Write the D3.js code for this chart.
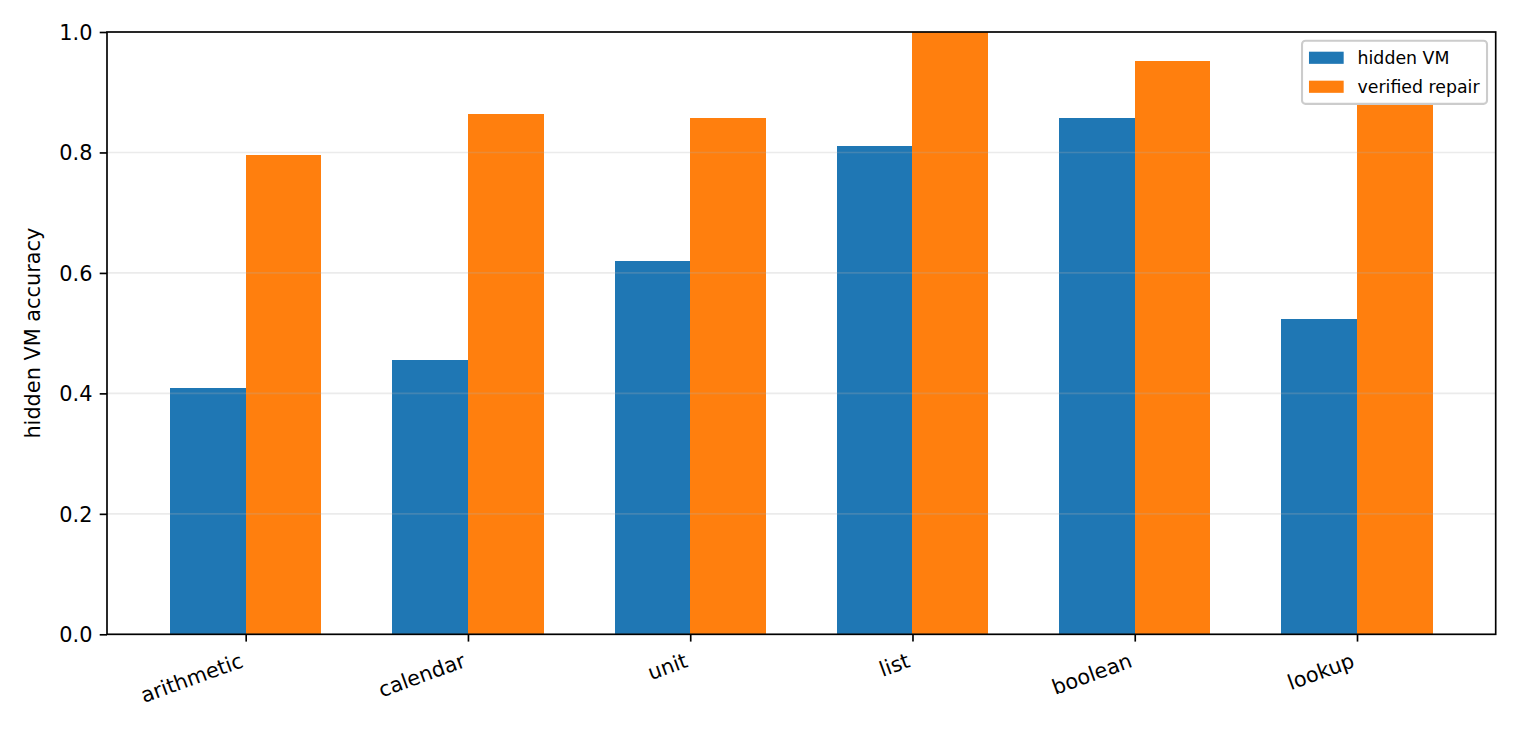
<!DOCTYPE html>
<html>
<head>
<meta charset="utf-8">
<script src="https://cdn.jsdelivr.net/npm/d3@7"></script>
<style>
  html, body { margin: 0; padding: 0; background: #fff; }
  svg { display: block; font-family: "DejaVu Sans", sans-serif; }
</style>
</head>
<body>
<div id="chart"></div>
<script>
// data
const categories = ["arithmetic", "calendar", "unit", "list", "boolean", "lookup"];
const hiddenVM = [0.409, 0.455, 0.619, 0.810, 0.857, 0.524];
const verifiedRepair = [0.795, 0.864, 0.857, 1.0, 0.952, 0.881];
const yTicks = [0.0, 0.2, 0.4, 0.6, 0.8, 1.0];
const seriesNames = ["hidden VM", "verified repair"];
const seriesColors = ["#1f77b4", "#ff7f0e"];

const W = 1520, H = 736;
const margin = {top: 32, right: 24.3, bottom: 101.7, left: 107};
const width = W - margin.left - margin.right,
      height = H - margin.top - margin.bottom;

// matplotlib-ish sizes at 150 dpi
const pt = 150 / 72;
const fontSize = 10 * pt;
const legendFont = 8.33 * pt;
const lw = 0.8 * pt;
const tickLen = 3.5 * pt, tickPad = 3.5 * pt;
const barW = 0.34;

// x extent = bar extent + 5% margin, like matplotlib autoscale
const lo = -barW, hi = categories.length - 1 + barW;
const pad = (hi - lo) * 0.05;

const x = d3.scaleLinear().domain([lo - pad, hi + pad]).range([0, width]);
const y = d3.scaleLinear().domain([0, 1]).range([height, 0]);

const svg = d3.select("#chart").append("svg")
    .attr("width", W)
    .attr("height", H);

const g = svg.append("g")
    .attr("transform", `translate(${margin.left},${margin.top})`);

// bars
const series = [hiddenVM, verifiedRepair];
series.forEach(function(vals, s) {
  g.append("g").selectAll("rect")
    .data(vals)
    .join("rect")
      .attr("x", (d, i) => x(i + (s - 1) * barW))
      .attr("y", d => y(d))
      .attr("width", x(barW) - x(0))
      .attr("height", d => y(0) - y(d))
      .attr("fill", seriesColors[s])
      .attr("shape-rendering", "crispEdges");
});

// horizontal grid, drawn above the bars (matplotlib default zorder)
g.append("g").selectAll("line")
  .data(yTicks)
  .join("line")
    .attr("x1", 0).attr("x2", width)
    .attr("y1", d => y(d)).attr("y2", d => y(d))
    .attr("stroke", "#b0b0b0")
    .attr("stroke-opacity", 0.25)
    .attr("stroke-width", lw);

// y axis
const yAxis = g.append("g")
    .call(d3.axisLeft(y).tickValues(yTicks).tickFormat(d3.format(".1f"))
      .tickSize(tickLen).tickPadding(tickPad));
yAxis.select(".domain").remove();
yAxis.selectAll(".tick line").attr("stroke", "#000").attr("stroke-width", lw);
yAxis.selectAll(".tick text")
    .attr("font-family", "DejaVu Sans")
    .attr("font-size", fontSize)
    .attr("fill", "#000")
    .attr("dy", "0.36em");

// x axis: ticks and rotated labels (ha=right, rotation=20)
const xAxis = g.append("g")
    .attr("transform", `translate(0,${height})`)
    .call(d3.axisBottom(x).tickValues(d3.range(categories.length))
      .tickFormat(i => categories[i]).tickSize(tickLen).tickPadding(tickPad));
xAxis.select(".domain").remove();
xAxis.selectAll(".tick line").attr("stroke", "#000").attr("stroke-width", lw);
const rot = 20 * Math.PI / 180;
const asc = 0.9 * fontSize, desc = 0.24 * fontSize;
xAxis.selectAll(".tick text")
    .attr("font-family", "DejaVu Sans")
    .attr("font-size", fontSize)
    .attr("fill", "#000")
    .attr("text-anchor", "end")
    .attr("dy", null)
    .attr("y", null)
    .attr("transform", `translate(${-desc * Math.sin(rot)},${tickLen + tickPad + asc * Math.cos(rot)}) rotate(-20)`);

// spines
g.append("rect")
    .attr("x", 0).attr("y", 0)
    .attr("width", width).attr("height", height)
    .attr("fill", "none")
    .attr("stroke", "#000")
    .attr("stroke-width", lw);

// y label
svg.append("text")
    .attr("transform", `translate(40,${margin.top + height / 2}) rotate(-90)`)
    .attr("text-anchor", "middle")
    .attr("font-size", fontSize)
    .attr("fill", "#000")
    .text("hidden VM accuracy");

// legend, upper right
const lf = legendFont;
const handleW = 2 * lf, handleH = 0.7 * lf;
const rowH = 1.17 * lf, rowGap = 0.5 * lf, bpad = 0.4 * lf;
const legW = 2 * bpad + handleW + 0.8 * lf + 7.06 * lf;
const legH = 2 * bpad + seriesNames.length * rowH + (seriesNames.length - 1) * rowGap;
const legX = width - 0.5 * lf - legW, legY = 0.5 * lf;

const legend = g.append("g").attr("transform", `translate(${legX},${legY})`);
legend.append("rect")
    .attr("width", legW).attr("height", legH)
    .attr("rx", 0.2 * lf)
    .attr("fill", "#fff").attr("fill-opacity", 0.8)
    .attr("stroke", "#cccccc").attr("stroke-width", 1 * pt);

seriesNames.forEach(function(name, i) {
  const cy = bpad + i * (rowH + rowGap) + rowH / 2;
  legend.append("rect")
      .attr("x", bpad).attr("y", cy - handleH / 2)
      .attr("width", handleW).attr("height", handleH)
      .attr("fill", seriesColors[i]);
  legend.append("text")
      .attr("x", bpad + handleW + 0.8 * lf)
      .attr("y", cy + 0.34 * lf)
      .attr("font-size", lf)
      .attr("fill", "#000")
      .text(name);
});
</script>
</body>
</html>
